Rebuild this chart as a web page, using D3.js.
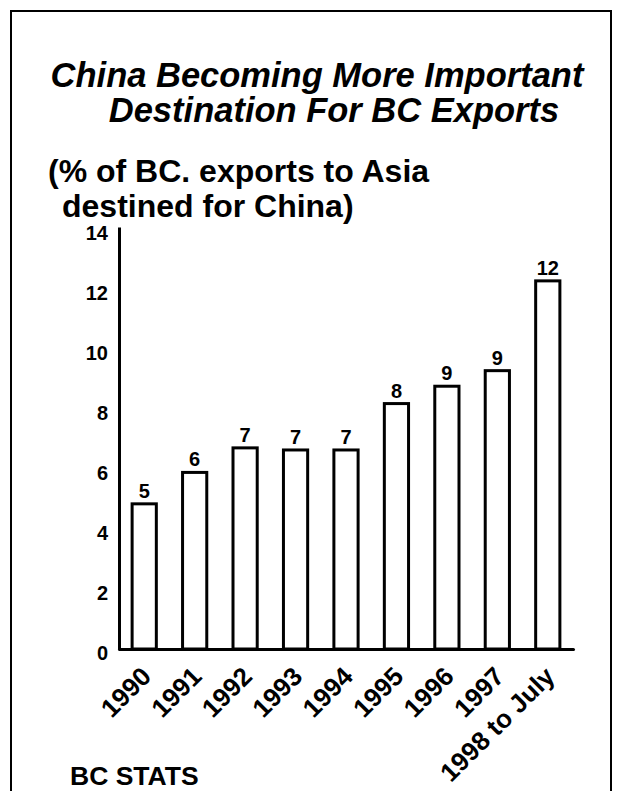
<!DOCTYPE html>
<html>
<head>
<meta charset="utf-8">
<script src="https://cdn.jsdelivr.net/npm/d3@7"></script>
<style>
  html, body { margin: 0; padding: 0; background: #fff; }
  svg { display: block; }
  text { font-family: "Liberation Sans", Arial, Helvetica, sans-serif; font-weight: bold; fill: #000; }
</style>
</head>
<body>
<script>
// ---- data ----
const categories = ["1990", "1991", "1992", "1993", "1994", "1995", "1996", "1997", "1998 to July"];
const values = [4.85, 5.9, 6.72, 6.65, 6.65, 8.2, 8.78, 9.3, 12.3];
const valueLabels = ["5", "6", "7", "7", "7", "8", "9", "9", "12"];
const yTicks = [0, 2, 4, 6, 8, 10, 12, 14];
const titleLines = ["China Becoming More Important", "Destination For BC Exports"];
const subtitleLines = ["(% of BC. exports to Asia", "destined for China)"];
const sourceText = "BC STATS";

// ---- layout ----
const W = 623, H = 791;
const svg = d3.select("body").append("svg").attr("width", W).attr("height", H);
svg.append("rect").attr("width", W).attr("height", H).attr("fill", "#fff");

// frame (open at bottom)
svg.append("path")
  .attr("d", "M11,791 L11,11 L611,11 L611,791")
  .attr("fill", "none").attr("stroke", "#000").attr("stroke-width", 2);

// title
const titleX = [317, 334];
svg.selectAll("text.title").data(titleLines).join("text")
  .attr("class", "title")
  .attr("x", (d, i) => titleX[i])
  .attr("y", (d, i) => 87 + i * 35)
  .attr("text-anchor", "middle")
  .style("font-size", "34.5px").style("font-style", "italic")
  .text(d => d);

// subtitle
const subX = [48, 62];
svg.selectAll("text.sub").data(subtitleLines).join("text")
  .attr("class", "sub")
  .attr("x", (d, i) => subX[i])
  .attr("y", (d, i) => 182 + i * 35)
  .style("font-size", "32px")
  .text(d => d);

// scales
const x = d3.scaleBand().domain(categories).range([119, 573]).paddingInner(0.52).paddingOuter(0.26);
const y = d3.scaleLinear().domain([0, 14.1]).range([649, 227]);

// y axis
const yAxis = svg.append("g").attr("transform", "translate(119,0)")
  .call(d3.axisLeft(y).tickValues(yTicks).tickSize(0).tickPadding(11).tickFormat(d3.format("d")));
yAxis.select(".domain").attr("stroke", "#000").attr("stroke-width", 3);
yAxis.selectAll(".tick text")
  .attr("dy", "0.5em")
  .style("font-size", "20px").style("font-family", "'Liberation Sans', Arial, sans-serif").style("font-weight", "bold");

// bars
svg.selectAll("rect.bar").data(values).join("rect")
  .attr("class", "bar")
  .attr("x", (d, i) => x(categories[i]))
  .attr("y", d => y(d))
  .attr("width", x.bandwidth())
  .attr("height", d => y(0) - y(d))
  .attr("fill", "#fff").attr("stroke", "#000").attr("stroke-width", 3);

// x axis
const xAxis = svg.append("g").attr("transform", `translate(0,${y(0)})`)
  .call(d3.axisBottom(x).tickSize(0).tickSizeOuter(0).tickFormat(() => ""));
xAxis.select(".domain").attr("stroke", "#000").attr("stroke-width", 3).attr("stroke-linecap", "round");

// value labels
svg.selectAll("text.val").data(values).join("text")
  .attr("class", "val")
  .attr("x", (d, i) => x(categories[i]) + x.bandwidth() / 2)
  .attr("y", d => y(d) - 6)
  .attr("text-anchor", "middle")
  .style("font-size", "20px")
  .text((d, i) => valueLabels[i]);

// category labels
svg.selectAll("text.cat").data(categories).join("text")
  .attr("class", "cat")
  .attr("transform", d => `translate(${x(d) + x.bandwidth() / 2 + 8.5},${y(0) + 29}) rotate(-45)`)
  .attr("text-anchor", "end")
  .style("font-size", "26px")
  .text(d => d);

// source
svg.append("text").attr("x", 70).attr("y", 785)
  .style("font-size", "26.5px")
  .text(sourceText);
</script>
</body>
</html>
